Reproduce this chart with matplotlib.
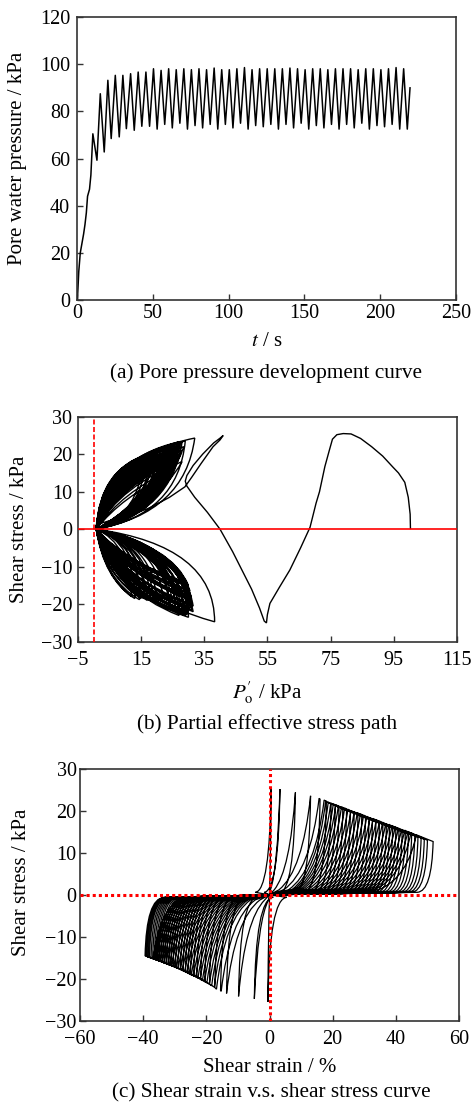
import numpy as np
import matplotlib.pyplot as plt
from matplotlib.path import Path
from matplotlib.patches import PathPatch

plt.rcParams['font.family'] = ['Liberation Serif', 'DejaVu Serif']
plt.rcParams['mathtext.fontset'] = 'stix'
plt.rcParams['font.size'] = 14.5

# ---------------- (a) pore pressure vs time ----------------
ramp_t = [0.3, 1.2, 2.2, 3.3, 4.4, 5.3, 6.2, 7.0, 8.3, 9.2]
ramp_u = [0.0, 12.0, 20.0, 24.0, 28.0, 32.0, 37.0, 44.0, 47.0, 53.0]
peak_t = [10.5, 15.4, 20.4, 25.3, 30.3, 35.4, 40.4, 45.5, 50.5, 55.5,
          60.5, 65.5, 70.5, 75.5, 80.5, 85.5, 90.5, 95.5, 100.5, 105.5,
          110.5, 115.5, 120.5, 125.5, 130.5, 135.5, 140.5, 145.5, 150.5, 155.5,
          160.5, 165.5, 170.5, 175.5, 180.5, 185.5, 190.5, 195.5, 200.5, 205.5,
          210.5, 215.5]
peak_u = [70.5, 87.5, 93.2, 95.3, 95.3, 96.0, 96.7, 96.7, 98.1, 97.4,
          98.1, 97.7, 98.1, 97.7, 98.1, 97.7, 98.4, 97.7, 97.7, 98.1,
          98.6, 97.7, 98.1, 98.1, 98.1, 98.1, 98.4, 98.1, 97.7, 98.1,
          98.1, 97.7, 98.1, 98.1, 98.1, 97.7, 98.1, 98.1, 97.7, 98.1,
          98.6, 98.1]
trough_t = [13.2, 18.0, 22.6, 27.9, 32.6, 37.8, 42.8, 47.9, 52.9, 57.9,
            62.9, 67.9, 72.9, 77.9, 82.9, 87.9, 92.9, 97.9, 102.9, 107.9,
            112.9, 117.9, 122.9, 127.9, 132.9, 137.9, 142.9, 147.9, 152.9, 157.9,
            162.9, 167.9, 172.9, 177.9, 182.9, 187.9, 192.9, 197.9, 202.9, 207.9,
            212.9, 217.9]
trough_u = [59.3, 62.8, 68.5, 69.2, 72.7, 72.0, 73.7, 73.7, 72.5, 74.5,
            73.0, 75.0, 72.5, 74.0, 73.0, 74.5, 72.5, 74.5, 73.0, 75.0,
            72.5, 74.0, 73.5, 74.5, 72.5, 74.5, 73.0, 75.0, 72.5, 74.0,
            73.0, 74.5, 72.5, 74.5, 73.0, 75.0, 72.5, 74.0, 73.5, 74.5,
            72.5, 72.5]
end_t = [219.7]
end_u = [90.0]

# ---------------- (b) effective stress path ----------------
first_p = [100.3, 100.2, 99.6, 98.5, 96.5, 94.8, 91.5, 88.0, 84.5, 81.5,
           79.0, 77.0, 75.6, 74.6, 73.2, 71.5, 70.4, 68.5, 65.5, 62.1,
           58.8, 55.8, 55.0, 54.7, 54.0, 52.5, 50.0, 47.0, 44.0, 40.0,
           36.0, 32.0, 29.5, 29.0, 29.5, 31.5, 34.5, 38.0, 40.2, 41.0,
           40.0, 37.8, 34.0, 31.0, 28.9, 24.0, 18.0, 12.0, 6.0, 2.0, 0.8]
first_q = [0.0, 4.0, 8.5, 12.5, 15.0, 16.5, 19.5, 22.0, 24.2, 25.4,
           25.5, 25.2, 24.0, 21.0, 16.7, 10.0, 6.9, 0.5, -5.0, -10.9,
           -15.5, -19.8, -22.8, -25.0, -24.5, -21.0, -16.0, -11.0, -6.0, 0.0,
           4.5, 8.5, 11.5, 12.8, 14.3, 17.0, 20.0, 23.0, 24.4, 25.0,
           23.8, 22.0, 17.5, 13.8, 11.3, 8.5, 5.8, 3.8, 2.5, 1.5, 0.3]

up_tip_p = [32.0, 29.0, 28.0, 27.5, 27.0, 26.5, 26.0, 25.5, 25.0, 24.5,
            24.0, 23.5, 23.0, 22.5, 22.0, 21.5, 21.0, 20.5, 26.0, 25.0,
            24.0, 17.0, 16.0, 19.0, 22.0, 27.5, 28.0, 26.5, 23.0, 20.0,
            27.0, 26.5, 25.5, 24.5, 23.5, 28.5, 27.8, 27.0, 26.0, 25.0,
            24.0, 18.0, 20.0, 21.0]
up_tip_q = [24.3, 23.5, 23.3, 23.0, 22.5, 22.0, 21.5, 21.0, 20.5, 20.0,
            19.5, 19.0, 18.5, 18.0, 17.5, 17.0, 16.5, 16.0, 18.0, 16.0,
            14.5, 20.0, 19.5, 20.0, 21.0, 20.0, 18.0, 22.8, 21.5, 19.0,
            23.3, 23.0, 22.5, 22.0, 21.5, 22.0, 21.0, 19.5, 20.5, 19.0,
            18.0, 20.2, 20.5, 20.0]
up_width = [1.0, 1.05, 0.95, 0.9, 0.85, 0.8, 0.75, 0.75, 0.7, 0.65,
            0.6, 0.55, 0.5, 0.5, 0.45, 0.45, 0.4, 0.4, 0.5, 0.4,
            0.35, 1.0, 1.0, 0.95, 0.9, 0.6, 0.5, 0.95, 0.7, 0.6,
            1.0, 0.95, 0.9, 0.85, 0.8, 0.7, 0.65, 0.6, 0.9, 0.7,
            0.6, 1.05, 1.0, 0.75]

lo_tip_p = [38.3, 30.0, 29.0, 28.5, 28.0, 30.5, 31.0, 31.0, 30.5, 30.0,
            29.5, 29.0, 28.5, 28.0, 27.0, 26.0, 25.0, 16.0, 14.5, 13.0,
            12.0, 31.5, 30.0, 29.0, 27.5, 26.5, 24.0, 22.0, 20.0, 18.0,
            29.5, 30.0, 31.0, 31.5, 31.0, 30.5, 30.0, 29.0, 27.0, 26.0,
            24.0, 15.0, 17.0, 19.0]
lo_tip_q = [-24.7, -23.5, -23.0, -22.5, -22.0, -21.0, -20.0, -19.0, -18.0, -17.0,
            -16.0, -15.0, -14.5, -14.0, -21.0, -20.0, -19.5, -18.5, -18.8, -18.5,
            -18.0, -22.0, -21.5, -20.5, -18.0, -17.0, -19.0, -18.5, -19.0, -18.8,
            -22.8, -22.0, -21.5, -20.5, -18.5, -16.5, -15.0, -14.0, -23.0, -22.0,
            -21.0, -18.5, -19.0, -19.5]
lo_width = [1.0, 1.0, 0.9, 0.9, 0.8, 0.8, 0.75, 0.7, 0.7, 0.65,
            0.6, 0.6, 0.55, 0.5, 0.8, 0.8, 0.8, 1.0, 1.0, 1.0,
            0.9, 0.75, 0.7, 0.6, 0.5, 0.45, 0.85, 0.85, 0.9, 0.9,
            1.0, 0.9, 0.85, 0.8, 0.75, 0.7, 0.65, 0.6, 0.95, 0.95,
            0.9, 0.9, 0.85, 0.9]

# ---------------- (c) shear strain vs shear stress ----------------
pos_rise_x = [0.0, 0.3, 1.5, 3.0, 4.5, 6.0, 7.0, 7.6, 8.2, 8.8, 9.5, 10.2,
              11.0, 12.0, 13.0, 14.0, 15.0, 16.0, 17.0, 18.0, 19.0, 20.0,
              21.0, 22.0, 23.0, 24.0, 25.0, 26.0, 27.0, 28.0, 29.0, 30.0,
              31.0, 32.0, 33.0, 34.5]
pos_peak_x = [0.5, 3.3, 8.2, 13.0, 15.7, 17.3, 17.8, 18.6, 19.4, 20.2, 21.0, 21.8,
              22.8, 23.8, 24.8, 25.8, 26.8, 27.8, 28.8, 29.8, 30.8, 31.8,
              32.8, 33.8, 34.8, 35.8, 36.8, 37.8, 38.8, 39.8, 40.8, 41.8,
              42.8, 43.8, 44.8, 46.5]
pos_peak_y = [25.3, 25.2, 24.4, 23.6, 23.0, 22.6, 22.4, 22.1, 21.9, 21.7, 21.5, 21.2,
              21.0, 20.7, 20.4, 20.1, 19.8, 19.6, 19.3, 19.0, 18.7, 18.4,
              18.2, 17.9, 17.6, 17.3, 17.0, 16.8, 16.5, 16.2, 15.9, 15.6,
              15.4, 15.1, 14.8, 14.3]
pos_end_x = [0.5, 3.3, 8.2, 13.0, 16.0, 18.0, 19.5, 20.8, 22.0, 23.2, 24.4, 25.6,
             26.8, 28.0, 29.2, 30.4, 31.5, 32.6, 33.7, 34.8, 35.9, 37.0,
             38.0, 39.0, 40.0, 41.0, 42.0, 43.0, 44.0, 45.0, 46.0, 47.0,
             48.0, 49.0, 50.0, 51.8]
pos_end_y = [25.3, 25.2, 24.4, 23.6, 22.8, 22.2, 21.6, 21.2, 20.8, 20.4, 20.0, 19.7,
             19.3, 19.0, 18.6, 18.3, 17.9, 17.6, 17.3, 17.0, 16.7, 16.4,
             16.1, 15.8, 15.5, 15.3, 15.0, 14.7, 14.5, 14.2, 14.0, 13.7,
             13.5, 13.2, 13.0, 12.7]
neg_rise_x = [0.0, -0.3, -1.5, -3.0, -4.5, -6.0, -6.8, -7.4, -8.0, -8.6, -9.2, -9.8,
              -10.5, -11.2, -12.0, -12.8, -13.6, -14.4, -15.2, -16.0, -16.8, -17.6,
              -18.4, -19.2, -20.0, -20.8, -21.6, -22.4, -23.2, -24.0, -24.8, -25.6,
              -26.4, -27.2, -28.0, -28.8]
neg_peak_x = [-0.5, -4.8, -9.8, -13.6, -15.3, -16.8, -17.5, -18.3, -19.0, -19.8, -20.5, -21.2,
              -21.9, -22.6, -23.3, -24.0, -24.7, -25.4, -26.1, -26.8, -27.5, -28.2,
              -28.9, -29.6, -30.3, -31.0, -31.6, -32.2, -32.8, -33.4, -34.0, -34.6,
              -35.2, -35.8, -36.3, -36.8]
neg_peak_y = [-25.5, -24.8, -24.2, -23.5, -23.0, -22.5, -22.0, -21.6, -21.2, -20.8, -20.5, -20.2,
              -19.9, -19.6, -19.4, -19.1, -18.9, -18.6, -18.3, -18.1, -17.9, -17.7,
              -17.5, -17.3, -17.1, -16.9, -16.7, -16.5, -16.4, -16.2, -16.0, -15.8,
              -15.7, -15.5, -15.3, -15.2]
neg_end_x = [-0.5, -4.8, -9.8, -13.6, -15.5, -17.3, -19.0, -20.5, -21.8, -23.0, -24.0, -25.0,
             -25.8, -26.6, -27.4, -28.2, -29.0, -29.8, -30.5, -31.2, -31.9, -32.6,
             -33.2, -33.8, -34.4, -35.0, -35.5, -36.0, -36.5, -37.0, -37.5, -38.0,
             -38.4, -38.8, -39.1, -39.4]
neg_end_y = [-25.5, -24.8, -24.2, -23.5, -22.8, -22.1, -21.3, -20.7, -20.2, -19.7, -19.3, -19.0,
             -18.7, -18.4, -18.1, -17.8, -17.5, -17.3, -17.0, -16.8, -16.6, -16.4,
             -16.2, -16.0, -15.8, -15.7, -15.5, -15.4, -15.2, -15.1, -15.0, -14.9,
             -14.8, -14.7, -14.6, -14.5]

SPINE = '#333333'
LABEL_FS = 15
CAPTION_FS = 15.3


def style_axes(ax, xpad=4, ypad=4):
    for s in ax.spines.values():
        s.set_color(SPINE)
        s.set_linewidth(1.2)
    ax.tick_params(direction='in', length=4, width=1, color=SPINE,
                   labelsize=14.5)
    ax.tick_params(axis='x', pad=xpad)
    ax.tick_params(axis='y', pad=ypad)


def lobe(p0, tp, tq, w, kx1, ky1, kx2, ky2):
    # one petal of the stress path: origin -> tip -> origin
    mp, mq = (p0 + tp) / 2, tq / 2
    dp = tp - p0
    c1 = (mp - w * kx1 * dp, mq + w * ky1 * tq)
    c2 = (mp + w * kx2 * dp, mq - w * ky2 * tq)
    verts = [(p0, 0), c1, (tp, tq), c2, (p0, 0)]
    codes = [Path.MOVETO, Path.CURVE3, Path.CURVE3, Path.CURVE3, Path.CURVE3]
    return verts, codes


fig = plt.figure(figsize=(4.72, 11.05), dpi=100)

# ---- (a)
ax1 = fig.add_axes([0.163, 0.7285, 0.803, 0.256])
t_all = np.array(ramp_t + peak_t + trough_t + end_t)
u_all = np.array(ramp_u + peak_u + trough_u + end_u)
order = np.argsort(t_all)
ax1.plot(t_all[order], u_all[order], color='black', lw=1.1)
ax1.set_xlim(0, 250)
ax1.set_ylim(0, 120)
ax1.set_xticks(range(0, 251, 50))
ax1.set_yticks(range(0, 121, 20))
style_axes(ax1, xpad=3, ypad=5)
ax1.set_ylabel('Pore water pressure / kPa', fontsize=LABEL_FS)
ax1.yaxis.set_label_coords(0.058, 0.8565, transform=fig.transFigure)
ax1.set_xlabel('$t$ / s', fontsize=LABEL_FS)
ax1.xaxis.set_label_coords(0.565, 0.6995, transform=fig.transFigure)
fig.text(0.564, 0.6624, '(a) Pore pressure development curve', ha='center',
         va='center', fontsize=CAPTION_FS)

# ---- (b)
ax2 = fig.add_axes([0.165, 0.4193, 0.803, 0.2036])
verts = list(zip(first_p, first_q))
codes = [Path.MOVETO] + [Path.LINETO] * (len(verts) - 1)
for tp, tq, w in zip(up_tip_p, up_tip_q, up_width):
    v, c = lobe(0.8, tp, tq, w, 0.42, 0.3, 0.4, 0.32)
    verts += v
    codes += c
for tp, tq, w in zip(lo_tip_p, lo_tip_q, lo_width):
    v, c = lobe(0.8, tp, tq, w, 0.3, 0.22, 0.5, 0.32)
    verts += v
    codes += c
ax2.add_patch(PathPatch(Path(verts, codes), fill=False, edgecolor='black', lw=1.0))
ax2.axhline(0, color='red', lw=1.2, zorder=5)
ax2.axvline(0, color='red', lw=1.2, ls=(0, (3, 1.5)), zorder=5)
ax2.set_xlim(-5, 115)
ax2.set_ylim(-30, 30)
ax2.set_xticks(range(-5, 116, 20))
ax2.set_yticks(range(-30, 31, 10))
style_axes(ax2, xpad=7, ypad=4)
ax2.set_ylabel('Shear stress / kPa', fontsize=LABEL_FS)
ax2.yaxis.set_label_coords(0.061, 0.521, transform=fig.transFigure)
ax2.set_xlabel("$P_{\\mathrm{o}}^{\\prime}$ / kPa", fontsize=LABEL_FS)
ax2.xaxis.set_label_coords(0.566, 0.3855, transform=fig.transFigure)
fig.text(0.566, 0.3448, '(b) Partial effective stress path', ha='center',
         va='center', fontsize=CAPTION_FS)

# ---- (c)
ax3 = fig.add_axes([0.1695, 0.0763, 0.803, 0.2278])
verts = [(0, 0)]
codes = [Path.MOVETO]
for k in range(len(pos_end_x)):
    r, p, q = pos_rise_x[k], pos_peak_x[k], pos_peak_y[k]
    e, f = pos_end_x[k], pos_end_y[k]
    verts += [(r, 1.2), (r + 0.75 * (p - r), 1.2 + 0.2 * (q - 1.2)), (p, q), (e, f),
              (e - 0.4, 0.8), (e - 5.0, 0.6), (0, 0)]
    codes += [Path.LINETO, Path.CURVE3, Path.CURVE3, Path.LINETO,
              Path.CURVE3, Path.CURVE3, Path.LINETO]
    r, p, q = neg_rise_x[k], neg_peak_x[k], neg_peak_y[k]
    e, f = neg_end_x[k], neg_end_y[k]
    verts += [(r, -1.2), (r + 0.75 * (p - r), -1.2 + 0.2 * (q + 1.2)), (p, q), (e, f),
              (e + 0.4, -0.8), (e + 6.0, -0.6), (0, 0)]
    codes += [Path.LINETO, Path.CURVE3, Path.CURVE3, Path.LINETO,
              Path.CURVE3, Path.CURVE3, Path.LINETO]
ax3.add_patch(PathPatch(Path(verts, codes), fill=False, edgecolor='black', lw=0.9))
ax3.axhline(0, color='red', lw=2.2, ls=(0, (1, 1)), zorder=5)
ax3.axvline(0, color='red', lw=2.2, ls=(0, (1, 1)), zorder=5)
ax3.set_xlim(-60, 60)
ax3.set_ylim(-30, 30)
ax3.set_xticks(range(-60, 61, 20))
ax3.set_yticks(range(-30, 31, 10))
style_axes(ax3, xpad=7, ypad=2.5)
ax3.set_ylabel('Shear stress / kPa', fontsize=LABEL_FS)
ax3.yaxis.set_label_coords(0.066, 0.2018, transform=fig.transFigure)
ax3.set_xlabel('Shear strain / %', fontsize=LABEL_FS)
ax3.xaxis.set_label_coords(0.572, 0.0425, transform=fig.transFigure)
fig.text(0.574, 0.0109, '(c) Shear strain v.s. shear stress curve', ha='center',
         va='center', fontsize=CAPTION_FS)

fig.savefig('out.png', dpi=100)
